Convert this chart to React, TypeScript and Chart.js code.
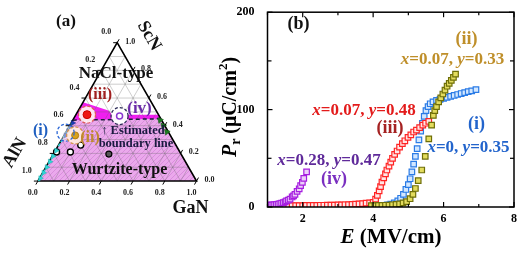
import React, { useEffect, useRef } from 'react';
import { Chart, registerables } from 'chart.js';
Chart.register(...registerables);

const SERIF = '"Liberation Serif", "Times New Roman", serif';

// ---------------- Panel (b): Pr vs E ----------------
const E_iv = [1.0, 1.05, 1.1, 1.15, 1.2, 1.25, 1.3, 1.35, 1.4, 1.45, 1.5, 1.54, 1.59, 1.64, 1.7, 1.74, 1.78, 1.84, 1.9, 1.94, 1.99, 2.03, 2.11];
const Pr_iv = [2, 2, 2, 2.2, 2.4, 2.7, 3, 3.4, 3.9, 4.5, 5.2, 6.3, 7, 8, 10.3, 11.5, 13, 16, 18.7, 22, 25.3, 29.3, 36];

const E_iii = [1.6, 1.7, 1.8, 1.9, 2.0, 2.1, 2.2, 2.3, 2.4, 2.5, 2.6, 2.7, 2.8, 2.9, 3.0, 3.1, 3.2, 3.3, 3.4, 3.5, 3.6, 3.7, 3.8, 3.9,
  4.0, 4.07, 4.12, 4.17, 4.21, 4.25, 4.3, 4.35, 4.39, 4.45, 4.5, 4.55, 4.61, 4.68, 4.75, 4.83, 4.9, 4.99, 5.07, 5.15, 5.23, 5.32, 5.41, 5.49, 5.58];
const Pr_iii = [1.5, 1.5, 1.5, 1.5, 1.5, 1.6, 1.6, 1.7, 1.7, 1.8, 1.8, 1.9, 2, 2, 2.1, 2.2, 2.3, 2.5, 2.7, 2.9, 3.2, 3.5, 3.9, 4.3,
  4.8, 8, 12, 16.5, 21, 25.5, 30, 34, 38, 42, 46, 50, 54, 57.5, 61.5, 65, 68, 71.5, 74, 77, 79, 81.5, 84, 86, 88];

const E_i = [3.9, 4.0, 4.1, 4.2, 4.3, 4.4, 4.5, 4.6, 4.7, 4.78, 4.86, 4.93, 5.0, 5.05, 5.1, 5.15, 5.2, 5.25, 5.3, 5.35,
  5.4, 5.45, 5.5, 5.56, 5.62, 5.7, 5.8, 5.9, 6.0, 6.1, 6.2, 6.3, 6.4, 6.5, 6.6, 6.7, 6.8, 6.92];
const Pr_i = [1, 1, 1.2, 1.4, 1.7, 2.2, 3, 4.3, 6.2, 9, 13, 18, 23, 29, 36, 44, 52, 60, 69, 78,
  86, 93, 99, 103, 106, 108, 109.5, 110.5, 111.5, 112.5, 113.5, 114.5, 115.5, 116.5, 117.5, 118.5, 119.3, 120.5];

const E_ii = [3.95, 4.05, 4.15, 4.25, 4.35, 4.45, 4.55, 4.65, 4.75, 4.85, 4.95, 5.05, 5.13, 5.2, 5.28, 5.38, 5.48, 5.58, 5.66, 5.71,
  5.75, 5.8, 5.86, 5.92, 5.98, 6.04, 6.1, 6.16, 6.22, 6.28, 6.34];
const Pr_ii = [1.5, 1.5, 1.6, 1.7, 1.8, 2, 2.3, 2.7, 3.3, 4.2, 5.5, 8.5, 13, 19, 27, 38, 52, 70, 84, 94,
  99, 103, 108, 112, 116, 120, 124, 127, 130, 133, 136.5];

const xTickValues = [1, 2, 3, 4, 5, 6, 7, 8];
const yTickValues = [0, 50, 100, 150, 200];

// ---------------- Panel (a): ternary AlN–GaN–ScN ----------------
// x = GaN fraction, y = ScN fraction, AlN = 1 - x - y
const labeledNames = ['(i)', '(ii)', '(iii)', '(iv)'];
const labeledGa = [0, 0.07, 0.07, 0.28];
const labeledSc = [0.35, 0.33, 0.48, 0.47];
const openGa = [0.14, 0.10, 0.013];
const openSc = [0.26, 0.21, 0.21];
const solidGa = [0.35];
const solidSc = [0.195];
const cyanGa = [0.006, 0.006, 0.006, 0.006, 0.006, 0.006];
const cyanSc = [0.02, 0.06, 0.10, 0.14, 0.18, 0.22];
const cyanLineGa = [0.004, 0.004];
const cyanLineSc = [0.0, 0.42];
const blueGa = [0.01, 0.01, 0.01, 0.01];
const blueSc = [0.33, 0.36, 0.39, 0.42];
const greenGa = [0.55, 0.59, 0.635];
const greenSc = [0.44, 0.40, 0.355];
const boundaryGa = [0, 0.55];
const boundarySc = [0.44, 0.45];
const wurtziteGa = [0, 0.55, 1, 0, 0];
const wurtziteSc = [0.44, 0.45, 0, 0, 0.44];
const mixedGa = [0, 0, 0.19, 0.23, 0.52, 0.55, 0];
const mixedSc = [0.44, 0.57, 0.51, 0.48, 0.48, 0.45, 0.44];
const outlineGa = [0, 1, 0, 0];
const outlineSc = [0, 0, 1, 0];
const ternTicks = [0, 0.2, 0.4, 0.6, 0.8, 1.0];

const H = Math.sqrt(3) / 2;
const tern = (g: number, s: number) => ({ x: g + s / 2, y: s * H });
const pts = (gs: number[], ss: number[]) => gs.map((g, i) => tern(g, ss[i]));

function font(size: number, italic = false) {
  return `${italic ? 'italic ' : ''}bold ${size}px ${SERIF}`;
}
type Seg = { t: string; it?: boolean; sz?: number; dy?: number };
function rich(ctx: CanvasRenderingContext2D, segs: Seg[], cx: number, cy: number, size: number, color: string) {
  let total = 0;
  const ws = segs.map((s) => {
    ctx.font = font(s.sz ?? size, s.it);
    const w = ctx.measureText(s.t).width;
    total += w;
    return w;
  });
  let x = cx - total / 2;
  ctx.fillStyle = color;
  ctx.textBaseline = 'middle';
  ctx.textAlign = 'left';
  segs.forEach((s, i) => {
    ctx.font = font(s.sz ?? size, s.it);
    ctx.fillText(s.t, x, cy + (s.dy ?? 0));
    x += ws[i];
  });
}
const xy = (xv: string, yv: string): Seg[] => [
  { t: 'x', it: true }, { t: '=' + xv + ', ' }, { t: 'y', it: true }, { t: '=' + yv },
];

const OXB = 210; // page x of canvas (b)

const panelBPlugin = {
  id: 'panelB',
  afterDraw(chart: any) {
    const { ctx, chartArea: a } = chart;
    const xs = chart.scales.x, ys = chart.scales.y;
    ctx.save();
    ctx.strokeStyle = '#000';
    ctx.lineWidth = 1.2;
    const ln = (x1: number, y1: number, x2: number, y2: number) => {
      ctx.beginPath(); ctx.moveTo(x1, y1); ctx.lineTo(x2, y2); ctx.stroke();
    };
    xTickValues.forEach((v) => {
      const p = xs.getPixelForValue(v);
      const L = v % 2 === 0 ? 5 : 3;
      ln(p, a.bottom, p, a.bottom - L);
      ln(p, a.top, p, a.top + L);
    });
    yTickValues.forEach((v) => {
      const p = ys.getPixelForValue(v);
      const L = v % 100 === 0 ? 5 : 4;
      ln(a.left, p, a.left + L, p);
      ln(a.right, p, a.right - L, p);
    });
    ctx.lineWidth = 1.5;
    ctx.strokeRect(a.left, a.top, a.right - a.left, a.bottom - a.top);

    const T = (segs: Seg[], px: number, py: number, size: number, color: string) => rich(ctx, segs, px - OXB, py, size, color);
    T([{ t: '(b)' }], 298.5, 24, 18, '#111');
    T([{ t: '(ii)' }], 466.5, 39, 18, '#bf8f2a');
    T(xy('0.07', '0.33'), 452.5, 60, 17, '#bf8f2a');
    T(xy('0.07', '0.48'), 364, 111, 17, '#e31b1b');
    T([{ t: '(iii)' }], 390, 128, 18, '#a52222');
    T([{ t: '(i)' }], 476.5, 124, 18, '#2264cc');
    T(xy('0', '0.35'), 468.5, 148, 17, '#2264cc');
    T(xy('0.28', '0.47'), 329, 161, 17, '#5f2a9a');
    T([{ t: '(iv)' }], 334, 179.5, 18, '#7a2fc0');

    // axis titles
    T([{ t: 'E', it: true }, { t: ' (MV/cm)' }], 391, 238, 21, '#000');
    ctx.save();
    ctx.translate(231 - OXB, 107);
    ctx.rotate(-Math.PI / 2);
    rich(ctx, [
      { t: 'P', it: true }, { t: 'r', sz: 14, dy: 5 }, { t: ' (\u03bcC/cm' }, { t: '2', sz: 13, dy: -7 }, { t: ')' },
    ], 0, 0, 20, '#000');
    ctx.restore();
    ctx.restore();
  },
};

const ringColors = ['#2a66d6', '#d4944e', '#e05a5a', '#2a2a55'];
const labelColors = ['#1f5fc0', '#c08a30', '#a02020', '#6a2aa8'];

const panelAPlugin = {
  id: 'panelA',
  afterDatasetsDraw(chart: any) {
    const ctx: CanvasRenderingContext2D = chart.ctx;
    const P = (g: number, s: number) => {
      const t = tern(g, s);
      return [chart.scales.x.getPixelForValue(t.x), chart.scales.y.getPixelForValue(t.y)];
    };
    ctx.save();
    ctx.setLineDash([3, 2]);
    ctx.lineWidth = 1.3;
    labeledGa.forEach((g, i) => {
      const [cx, cy] = P(g, labeledSc[i]);
      ctx.strokeStyle = ringColors[i];
      ctx.beginPath();
      ctx.arc(cx, cy, 8.5, 0, Math.PI * 2);
      ctx.stroke();
    });
    ctx.setLineDash([]);

    ctx.strokeStyle = '#000';
    ctx.lineWidth = 1;
    ctx.fillStyle = '#222';
    ctx.font = font(8);
    ctx.textAlign = 'center';
    ctx.textBaseline = 'middle';
    ternTicks.forEach((v) => {
      let [x, y] = P(v, 0);
      ctx.beginPath(); ctx.moveTo(x, y); ctx.lineTo(x - 2, y + 3.5); ctx.stroke();
      ctx.fillText(v.toFixed(1), x - 5, y + 12);
      [x, y] = P(0, 1 - v);
      ctx.beginPath(); ctx.moveTo(x, y); ctx.lineTo(x - 4, y); ctx.stroke();
      ctx.fillText(v.toFixed(1), x - 11, y - 10.5);
      [x, y] = P(1 - v, v);
      ctx.beginPath(); ctx.moveTo(x, y); ctx.lineTo(x + 2, y - 3.5); ctx.stroke();
      ctx.fillText(v.toFixed(1), x + 13, y - 1);
    });

    const txt = (t: string, x: number, y: number, size: number, color: string, rot = 0) => {
      ctx.save();
      ctx.translate(x, y);
      ctx.rotate(rot);
      ctx.font = font(size);
      ctx.fillStyle = color;
      ctx.textAlign = 'center';
      ctx.textBaseline = 'middle';
      ctx.fillText(t, 0, 0);
      ctx.restore();
    };
    txt('(a)', 66, 22, 17, '#111');
    txt('ScN', 149, 36, 18, '#111', Math.PI / 3);
    txt('AlN', 15, 153, 18, '#111', -Math.PI / 3);
    txt('GaN', 190.5, 208, 18, '#111');
    txt('NaCl-type', 116, 74, 17, '#111');
    txt('Wurtzite-type', 119.5, 170, 16, '#111');
    txt(labeledNames[2], 100, 95, 16, labelColors[2]);
    txt(labeledNames[3], 139.5, 109, 17, labelColors[3]);
    txt(labeledNames[0], 40.5, 131, 16, labelColors[0]);
    txt(labeledNames[1], 90, 138, 16, labelColors[1]);
    txt('\u2191 Estimated', 133, 131, 12.5, '#1a1a40');
    txt('boundary line', 136, 144, 12.5, '#1a1a40');
    ctx.restore();
  },
};

function makeHatch(ctx: CanvasRenderingContext2D) {
  const c = document.createElement('canvas');
  c.width = 5; c.height = 5;
  const g = c.getContext('2d')!;
  g.fillStyle = '#eba9ec';
  g.fillRect(0, 0, 5, 5);
  g.strokeStyle = 'rgba(205,120,210,0.8)';
  g.lineWidth = 0.7;
  g.beginPath();
  g.moveTo(0, 5); g.lineTo(5, 0);
  g.moveTo(-1, 1); g.lineTo(1, -1);
  g.moveTo(4, 6); g.lineTo(6, 4);
  g.stroke();
  return ctx.createPattern(c, 'repeat') as any;
}

function gridPoints() {
  const out: { x: number; y: number }[] = [];
  const brk = { x: NaN, y: NaN };
  for (let k = 1; k <= 9; k++) {
    const v = k / 10;
    out.push(tern(0, v), tern(1 - v, v), brk);
    out.push(tern(v, 0), tern(v, 1 - v), brk);
    out.push(tern(1 - v, 0), tern(0, 1 - v), brk);
  }
  return out;
}

export default function App() {
  const aRef = useRef<HTMLCanvasElement>(null);
  const bRef = useRef<HTMLCanvasElement>(null);

  useEffect(() => {
    const ctxA = aRef.current!.getContext('2d')!;
    const hatch = makeHatch(ctxA);
    const lineDs = (data: any[], extra: any) => ({
      data, showLine: true, pointRadius: 0, tension: 0, fill: false, borderWidth: 0, ...extra,
    });
    const chartA = new Chart(aRef.current!, {
      type: 'scatter',
      data: {
        datasets: [
          lineDs(pts(wurtziteGa, wurtziteSc), { fill: 'shape', backgroundColor: hatch, borderColor: 'rgba(0,0,0,0)', order: 10 }),
          lineDs(pts(mixedGa, mixedSc), { fill: 'shape', backgroundColor: '#f01ef0', borderColor: 'rgba(0,0,0,0)', order: 9 }),
          lineDs(gridPoints(), { borderColor: 'rgba(100,100,100,0.45)', borderWidth: 0.7, spanGaps: false, order: 8 }),
          lineDs(pts(outlineGa, outlineSc), { borderColor: '#000', borderWidth: 1.6, order: 7 }),
          lineDs(pts(boundaryGa, boundarySc), { borderColor: '#1b1b3a', borderWidth: 1.5, borderDash: [4, 3], order: 6 }),
          lineDs(pts(cyanLineGa, cyanLineSc), { borderColor: '#2fd6d6', borderWidth: 1.6, borderDash: [3, 2], order: 6 }),
          { data: pts(cyanGa, cyanSc), pointStyle: 'triangle', rotation: 90, pointRadius: 3, backgroundColor: '#2fd6d6', borderColor: '#1fb0b0', borderWidth: 0.5, order: 5 },
          { data: pts(blueGa, blueSc), pointStyle: 'triangle', rotation: 90, pointRadius: 3, backgroundColor: '#1c3cb8', borderColor: '#10287a', borderWidth: 0.5, order: 5 },
          { data: pts(greenGa, greenSc), pointStyle: 'triangle', rotation: 200, pointRadius: 3.5, backgroundColor: '#1e7a22', borderColor: '#145a16', borderWidth: 0.5, order: 5 },
          { data: pts(openGa, openSc), pointStyle: 'circle', pointRadius: 3, backgroundColor: '#fff', borderColor: '#000', borderWidth: 1.4, order: 5 },
          { data: pts(solidGa, solidSc), pointStyle: 'circle', pointRadius: 3, backgroundColor: '#555', borderColor: '#000', borderWidth: 1.2, order: 5 },
          {
            data: pts(labeledGa, labeledSc), pointStyle: 'circle', pointRadius: 8.5, borderWidth: 0,
            backgroundColor: ['rgba(255,255,255,0.45)', 'rgba(255,236,222,0.92)', 'rgba(255,236,240,0.96)', 'rgba(255,255,255,0.96)'],
            order: 4,
          },
          {
            data: pts(labeledGa, labeledSc), pointStyle: 'circle',
            pointRadius: [0, 3.5, 4, 3],
            backgroundColor: ['rgba(0,0,0,0)', '#d9a21b', '#ee1515', '#ffffff'],
            borderColor: ['rgba(0,0,0,0)', '#b07a10', '#cc0000', '#8a3ad0'],
            borderWidth: [0, 1, 1, 1.5],
            order: 3,
          },
        ],
      },
      options: {
        animation: false,
        responsive: false,
        events: [],
        layout: { padding: 0 },
        plugins: { legend: { display: false }, tooltip: { enabled: false } },
        scales: {
          x: { type: 'linear', min: -0.1851, max: 1.1576, display: false },
          y: { type: 'linear', min: -0.397, max: 1.08, display: false },
        },
      } as any,
      plugins: [panelAPlugin],
    } as any);

    const sq = (E: number[], P: number[], border: string, fill: string, order: number) => ({
      data: E.map((e, i) => ({ x: e, y: P[i] })),
      pointStyle: 'rect', pointRadius: 3.9, borderWidth: 1.2,
      borderColor: border, backgroundColor: fill, showLine: false, order,
    });
    const tickFont = { family: SERIF, size: 12, weight: 'bold' as const };
    const chartB = new Chart(bRef.current!, {
      type: 'scatter',
      data: {
        datasets: [
          sq(E_iv, Pr_iv, '#a61ee0', '#ecd0f8', 1),
          sq(E_ii, Pr_ii, '#6e6e08', '#e3dc5e', 2),
          sq(E_iii, Pr_iii, '#ff2424', '#ffe6e6', 3),
          sq(E_i, Pr_i, '#2a7be6', '#d2e7ff', 4),
        ],
      },
      options: {
        animation: false,
        responsive: false,
        events: [],
        layout: { padding: { left: 0, right: 6, top: 1, bottom: 0 } },
        plugins: { legend: { display: false }, tooltip: { enabled: false } },
        scales: {
          x: {
            type: 'linear', min: 1, max: 8,
            afterBuildTicks: (s: any) => { s.ticks = xTickValues.map((v) => ({ value: v })); },
            ticks: { callback: (v: any) => (v % 2 === 0 ? String(v) : ''), font: tickFont, color: '#000', padding: -3, maxRotation: 0, autoSkip: false },
            grid: { display: false },
            border: { display: false },
            afterFit: (s: any) => { s.height = 46; },
          },
          y: {
            type: 'linear', min: 0, max: 200,
            afterBuildTicks: (s: any) => { s.ticks = yTickValues.map((v) => ({ value: v })); },
            ticks: { callback: (v: any) => (v % 100 === 0 ? String(v) : ''), font: tickFont, color: '#000', padding: 5, autoSkip: false },
            grid: { display: false },
            border: { display: false },
            afterFit: (s: any) => { s.width = 57.5; },
          },
        },
      } as any,
      plugins: [panelBPlugin],
    } as any);

    return () => {
      chartA.destroy();
      chartB.destroy();
    };
  }, []);

  return (
    <div style={{ position: 'fixed', left: 0, top: 0, width: 520, height: 253, background: '#fff', overflow: 'hidden' }}>
      <canvas ref={aRef} width={230} height={253} style={{ position: 'absolute', left: 0, top: 0, width: 230, height: 253 }} />
      <canvas ref={bRef} width={310} height={253} style={{ position: 'absolute', left: OXB, top: 0, width: 310, height: 253 }} />
    </div>
  );
}
